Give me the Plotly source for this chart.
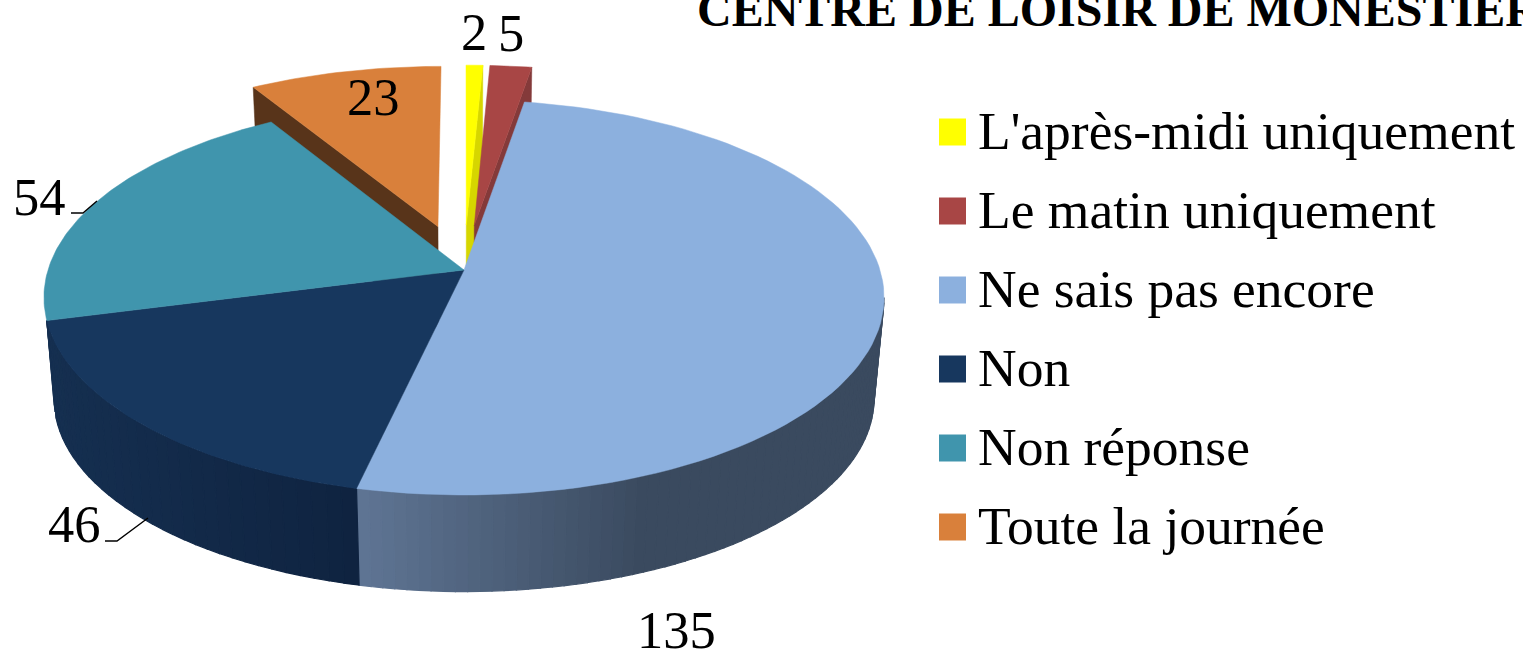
import math
import plotly.graph_objects as go

# ---- data ----
categories = ["L'après-midi uniquement", "Le matin uniquement", "Ne sais pas encore",
              "Non", "Non réponse", "Toute la journée"]
values = [2, 5, 135, 46, 54, 23]
title_text = "CENTRE DE LOISIR DE MONESTIER"

# ---- style ----
top_colors = ["#ffff00", "#a84645", "#8cb0de", "#17375e", "#4095ad", "#d9803b"]
wall_colors = ["#d6d600", "#843a3a", "#3a4a5f", "#122b4a", "#2f6f82", "#58341a"]
exploded = [True, True, False, False, False, True]
FONT = "Liberation Serif"
FS = 52.5
FS_LEG = 53.5
W, H = 1523, 652

# ---- pie geometry (perspective projection of a unit disc) ----
AX, AY = 464, 270
B, A, K = 416, 193.7, 0.139
SHRINK, DROP = 0.976, 102
EXPLODE = 0.24


def top(u, v):
    d = 1 + K * v
    return AX + B * u / d, AY - A * v / d


def low(u, v):
    d = 1 + K * v
    return AX + SHRINK * B * u / d, AY + DROP - SHRINK * A * v / d


def pol(t):
    r = math.radians(t)
    return math.sin(r), math.cos(r)


def arc(t0, t1, n):
    return [t0 + (t1 - t0) * i / n for i in range(n + 1)]


def lerp_color(c0, c1, f):
    f = max(0, min(1, f))
    a = [int(c0[i:i + 2], 16) for i in (1, 3, 5)]
    b = [int(c1[i:i + 2], 16) for i in (1, 3, 5)]
    return "#%02x%02x%02x" % tuple(round(p + (q - p) * f) for p, q in zip(a, b))


fig = go.Figure()


def poly(pts, color, name=None, lw=0.5):
    xs = [p[0] for p in pts] + [pts[0][0]]
    ys = [p[1] for p in pts] + [pts[0][1]]
    fig.add_trace(go.Scatter(x=xs, y=ys, mode="lines", fill="toself", fillcolor=color,
                             line=dict(color=color, width=lw), hoverinfo="skip" if name is None else "name",
                             name=name or "", showlegend=False))


total = sum(values)
spans = []
t = 0.0
for val in values:
    spans.append((t, t + val / total * 360))
    t += val / total * 360

# exploded slices: wall along the visible radial edge, then the top face
for i, (t0, t1) in enumerate(spans):
    if not exploded[i]:
        continue
    ou, ov = pol((t0 + t1) / 2)
    ou, ov = ou * EXPLODE, ov * EXPLODE
    edge = t1 if t1 < 180 else t0
    eu, ev = pol(edge)
    poly([top(ou, ov), top(eu + ou, ev + ov), low(eu + ou, ev + ov), low(ou, ov)], wall_colors[i])
    rim = [top(pol(a)[0] + ou, pol(a)[1] + ov) for a in arc(t0, t1, 24)]
    poly([top(ou, ov)] + rim, top_colors[i], categories[i])

# outer walls of the two front slices, in narrow strips for the shading
LEFT_EXT, RIGHT_EXT = 262, 98
n_blue = 64
b0, b1 = spans[2]
steps = arc(RIGHT_EXT, b1, n_blue)
for a0, a1 in zip(steps[:-1], steps[1:]):
    x_mid = low(*pol((a0 + a1) / 2))[0]
    col = lerp_color("#5f7594", "#3a4a5f", (x_mid - 360) / (640 - 360))
    poly([top(*pol(a0)), top(*pol(a1)), low(*pol(a1)), low(*pol(a0))], col, lw=1.2)

d0, d1 = spans[3]
steps = arc(d0, LEFT_EXT, 36)
for a0, a1 in zip(steps[:-1], steps[1:]):
    x_mid = low(*pol((a0 + a1) / 2))[0]
    col = lerp_color("#0f2340", "#152f50", (360 - x_mid) / (360 - 55))
    poly([top(*pol(min(a0, d1))), top(*pol(min(a1, d1))), low(*pol(a1)), low(*pol(a0))], col, lw=1.2)

# top faces of the main disc
for i, (t0, t1) in enumerate(spans):
    if exploded[i]:
        continue
    rim = [top(*pol(a)) for a in arc(t0, t1, 90)]
    poly([top(0, 0)] + rim, top_colors[i], categories[i])

# legend
LEG_X, LEG_Y, LEG_DY, LEG_TX = 952.5, 132, 79, 976
for i, name in enumerate(categories):
    fig.add_trace(go.Scatter(x=[LEG_X], y=[LEG_Y + i * LEG_DY], mode="markers", name=name,
                             marker=dict(symbol="square", size=27, color=top_colors[i], line=dict(width=0)),
                             showlegend=False, hoverinfo="name"))
    fig.add_annotation(x=LEG_TX, y=LEG_Y + i * LEG_DY - 1, text=name, showarrow=False,
                       xanchor="left", yanchor="middle", font=dict(family=FONT, size=FS_LEG, color="black"))

# data labels
label_pos = [(474, 32), (511, 33), (676, 630), (74, 524), (39, 197), (373, 97)]
for (lx, ly), val in zip(label_pos, values):
    fig.add_annotation(x=lx, y=ly, text=str(val), showarrow=False, xanchor="center", yanchor="middle",
                       font=dict(family=FONT, size=FS, color="black"))

leaders = ["M 71 213 L 83 213 L 97 201", "M 105 541 L 117 541 L 148 518"]
shapes = [dict(type="path", path=p, xref="x", yref="y", line=dict(color="black", width=1.4)) for p in leaders]

fig.update_layout(
    width=W, height=H, autosize=False,
    margin=dict(l=0, r=0, t=0, b=0),
    paper_bgcolor="white", plot_bgcolor="white",
    showlegend=False,
    shapes=shapes,
    title=dict(text="<b>" + title_text + "</b>", x=697 / W, xanchor="left", xref="container",
               y=1 - 26 / H, yanchor="bottom", yref="container", pad=dict(l=0, r=0, t=0, b=0),
               font=dict(family=FONT, size=48, color="black")),
    xaxis=dict(range=[0, W], visible=False, fixedrange=True),
    yaxis=dict(range=[H, 0], visible=False, fixedrange=True),
)
fig.write_html("out.html", config={"displayModeBar": False},
               post_script="document.body.style.margin='0';document.body.style.overflow='hidden';")
